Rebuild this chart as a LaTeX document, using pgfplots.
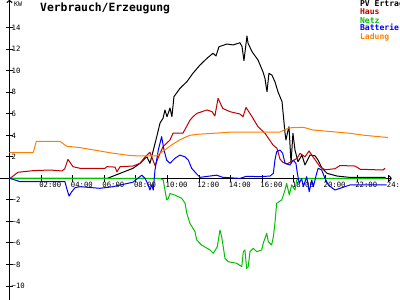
\documentclass[border=0pt]{standalone}
\usepackage{fontspec}
\setmainfont{DejaVu Sans Mono}
\usepackage{pgfplots}
\pgfplotsset{compat=1.18}
\usetikzlibrary{arrows.meta}
\definecolor{pvc}{RGB}{0,0,0}
\definecolor{hausc}{RGB}{192,0,0}
\definecolor{netzc}{RGB}{0,192,0}
\definecolor{battc}{RGB}{0,0,255}
\definecolor{ladc}{RGB}{255,128,0}
\begin{document}
\begin{tikzpicture}
\begin{axis}[
  x=15.8bp, y=10.76bp,
  xmin=-0.6, xmax=24.2, ymin=-11.3, ymax=16.58,
  axis lines=middle,
  enlargelimits=false,
  clip=false,
  axis line style={line width=1bp, -{To[length=3bp,width=6bp]}},
  xtick={2,4,...,24},
  xticklabels={02:00,04:00,06:00,08:00,10:00,12:00,14:00,16:00,18:00,20:00,22:00,24:00},
  ytick={-10,-8,-6,-4,-2,2,4,6,8,10,12,14},
  yticklabels={−10,−8,−6,−4,−2,2,4,6,8,10,12,14},
  tick align=center, major tick length=7bp,
  tick style={black, line width=1bp},
  xticklabel style={font=\fontsize{7.3}{8}\selectfont, anchor=north west, inner sep=0pt, xshift=-2bp, yshift=0bp},
  yticklabel style={font=\fontsize{7.3}{8}\selectfont, anchor=west, inner sep=0pt, xshift=5.5bp},
  every axis plot/.append style={line width=1bp, line join=round, no marks},
]
\addplot[pvc] coordinates {
(0,0) (6.2,0) (6.36,0.1) (7.0,0.47) (7.82,0.94) (8.26,1.4) (8.58,1.87) (8.7,2.0) (8.89,1.4) (9.08,2.48)
(9.34,4.0) (9.53,5.15) (9.72,5.6) (9.84,6.36) (9.97,5.73) (10.16,6.54) (10.28,5.73) (10.41,7.6) (10.79,8.37)
(11.23,8.99) (11.61,9.77) (12.06,10.54) (12.5,11.16) (12.88,11.63) (13.07,11.38) (13.26,12.24) (13.77,12.49)
(14.15,12.4) (14.59,12.61) (14.72,12.24) (14.84,10.94) (15.03,13.23) (15.1,12.56) (15.35,11.78) (15.73,11.0)
(16.04,9.92) (16.17,9.3) (16.23,8.68) (16.3,8.06) (16.42,9.77) (16.61,9.6) (16.8,8.99) (16.99,8.06)
(17.25,7.13) (17.31,6.2) (17.44,4.19) (17.5,3.57) (17.6,4.3) (17.69,4.8) (17.82,1.43) (17.94,4.2)
(18.07,2.64) (18.26,1.55) (18.51,2.17) (18.7,1.25) (19.02,2.17) (19.34,2.1) (19.53,1.7) (19.78,0.94)
(20.1,0.47) (20.73,0.22) (21.5,0.1) (23.8,0.1)
};
\addplot[hausc] coordinates {
(0.03,0) (0.54,0.57) (1.49,0.72) (2.56,0.78) (3.32,0.69) (3.5,0.9) (3.70,1.77) (4.02,1.09) (4.46,0.94)
(6.04,0.94) (6.17,1.09) (6.68,1.05) (6.80,0.62) (7.0,1.09) (7.82,1.15) (8.26,1.4) (8.58,2.0) (8.89,2.43)
(9.21,1.2) (9.52,2.3) (9.72,2.95) (10.16,3.57) (10.35,4.2) (10.98,4.2) (11.42,5.4) (11.61,5.73) (11.87,6.05)
(12.5,6.36) (12.82,6.2) (13.0,5.8) (13.2,7.44) (13.5,6.5) (13.96,6.2) (14.59,5.98) (14.78,5.73) (14.97,6.6)
(15.35,5.73) (15.73,4.8) (16.17,4.2) (16.68,3.1) (16.93,2.8) (17.12,1.8) (17.3,1.5) (17.56,1.35) (17.9,1.6)
(18.2,1.87) (18.39,2.33) (18.7,2.0) (18.96,2.55) (19.21,2.0) (19.65,1.09) (19.97,0.8) (20.6,0.9) (20.92,1.2)
(21.87,1.15) (22.2,0.85) (23.64,0.78) (23.77,0.95)
};
\addplot[netzc] coordinates {
(0,0) (9.53,0) (9.73,-0.15) (9.84,-1.08) (9.95,-2.0) (10.05,-1.85) (10.16,-1.4) (10.47,-1.55) (10.9,-1.85)
(11.11,-2.3) (11.22,-3.24) (11.42,-4.17) (11.74,-4.95) (11.85,-5.72) (12.16,-6.19) (12.69,-6.65) (12.9,-6.96)
(13.15,-6.35) (13.32,-4.8) (13.43,-5.42) (13.64,-7.43) (13.85,-7.74) (14.38,-7.89) (14.7,-8.2) (14.8,-6.81)
(14.9,-6.65) (15.01,-8.36) (15.11,-8.2) (15.22,-6.81) (15.43,-6.5) (15.65,-6.81) (15.96,-6.65) (16.06,-6.03)
(16.28,-5.1) (16.38,-5.88) (16.59,-6.19) (16.7,-5.42) (16.8,-4.17) (16.91,-2.31) (17.23,-2.0) (17.44,-1.08)
(17.54,-0.45) (17.71,-1.54) (17.86,-0.6) (18.07,-1.08) (18.18,-0.15) (18.3,0) (23.8,0)
};
\addplot[battc] coordinates {
(0.03,0.0) (0.35,-0.15) (0.66,-0.3) (1.49,-0.3) (2.56,-0.31) (3.51,-0.3) (3.62,-0.92) (3.77,-1.64)
(3.94,-1.24) (4.15,-0.86) (4.46,-0.77) (5.73,-0.92) (6.55,-0.77) (7.82,-0.35) (8.37,0.3) (8.58,0)
(8.78,-0.6) (8.89,-1.08) (9.0,-0.6) (9.1,-1.08) (9.21,0.78) (9.42,2.64) (9.63,3.88) (9.78,2.64) (9.95,1.7)
(10.16,1.4) (10.47,1.87) (10.79,2.17) (11.11,2.0) (11.32,1.7) (11.53,0.94) (11.85,0.41) (12.06,0.1)
(13.11,0.3) (13.5,0.1) (14.59,0.0) (15.0,0.2) (15.85,0.16) (16.49,0.22) (16.7,0.47) (16.8,1.7) (16.91,2.48)
(17.12,2.64) (17.29,2.33) (17.44,1.4) (17.75,1.25) (17.96,1.7) (18.13,1.4) (18.22,0.47) (18.34,-0.46)
(18.49,0) (18.6,-0.77) (18.81,0.16) (18.97,-1.24) (19.13,-0.15) (19.23,-0.77) (19.44,0.47) (19.54,0.94)
(19.76,0.78) (19.97,0) (20.18,-0.61) (20.6,-1.08) (20.92,-0.92) (21.55,-0.61) (23.87,-0.61)
};
\addplot[ladc] coordinates {
(0,2.4) (1.5,2.4) (1.7,3.45) (3.2,3.45) (3.6,3.0) (4.5,2.85) (5.5,2.6) (6.5,2.35) (7.5,2.15) (8.0,2.1)
(9.3,2.1) (9.8,2.6) (10.3,3.15) (10.8,3.6) (11.4,4.0) (11.9,4.1) (13,4.2) (14,4.3) (17.1,4.3) (17.7,4.7)
(18.6,4.75) (19.2,4.5) (21.5,4.2) (22.5,4.0) (23.95,3.8)
};
\node[anchor=west, inner sep=0pt, font=\fontsize{6.5}{7}\selectfont] at (axis cs:0.28,16.16) {KW};
\node[anchor=west, inner sep=0pt, font=\fontsize{11.4}{12}\selectfont\bfseries] at (axis cs:1.93,15.8) {Verbrauch/Erzeugung};
\begin{scope}[every node/.style={anchor=base west, inner sep=0pt, font=\fontsize{8.1}{9}\selectfont\bfseries}]
\node[text=pvc] at (axis cs:22.18,15.93) {PV Ertrag};
\node[text=hausc] at (axis cs:22.18,15.19) {Haus};
\node[text=netzc] at (axis cs:22.18,14.44) {Netz};
\node[text=battc] at (axis cs:22.18,13.70) {Batterie};
\node[text=ladc] at (axis cs:22.18,12.95) {Ladung};
\end{scope}
\coordinate (bl) at (axis cs:-0.6,-11.3);
\coordinate (tr) at (axis cs:24.716,16.58);
\end{axis}
\pgfresetboundingbox
\useasboundingbox (bl) rectangle (tr);
\end{tikzpicture}
\end{document}
